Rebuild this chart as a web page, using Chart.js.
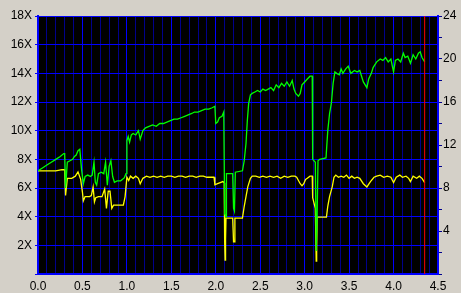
<!DOCTYPE html>
<html>
<head>
<meta charset="utf-8">
<script src="https://cdn.jsdelivr.net/npm/chart.js@4/dist/chart.umd.min.js"></script>
<style>
  body { margin: 0; background: #d4d0c8; }
  canvas { display: block; }
</style>
</head>
<body>
<canvas id="Chart" width="461" height="293"></canvas>
<script>
// transfer speed (X), read on the left axis
const speedData = [
    [0.00, 7.2], [0.05, 7.4], [0.10, 7.6], [0.15, 7.8], [0.20, 8.0], [0.25, 8.2], [0.29, 8.4], [0.30, 8.4],
    [0.31, 6.0], [0.33, 7.8], [0.36, 7.9], [0.39, 8.0], [0.41, 8.2], [0.43, 8.3], [0.45, 8.6], [0.47, 8.7],
    [0.49, 7.3], [0.51, 6.3], [0.53, 6.8], [0.56, 6.9], [0.59, 6.8], [0.61, 6.9], [0.63, 7.8], [0.645, 6.4],
    [0.66, 6.2], [0.68, 7.0], [0.71, 7.1], [0.74, 7.0], [0.76, 7.8], [0.78, 6.2], [0.80, 7.5], [0.82, 7.9],
    [0.84, 6.8], [0.86, 6.4], [0.89, 6.5], [0.93, 6.5], [0.97, 6.7], [0.99, 7.0], [1.00, 9.3], [1.015, 9.6],
    [1.03, 9.2], [1.05, 9.7], [1.07, 9.8], [1.10, 9.7], [1.13, 10.0], [1.15, 9.4], [1.18, 10.0], [1.21, 10.2],
    [1.25, 10.3], [1.29, 10.4], [1.33, 10.3], [1.37, 10.5], [1.41, 10.5], [1.45, 10.6], [1.49, 10.7], [1.53, 10.8],
    [1.57, 10.8], [1.61, 10.9], [1.65, 11.0], [1.69, 11.1], [1.73, 11.2], [1.76, 11.3], [1.80, 11.3], [1.84, 11.4],
    [1.88, 11.5], [1.92, 11.5], [1.96, 11.6], [1.99, 11.7], [2.00, 10.5], [2.02, 10.6], [2.04, 10.9], [2.07, 11.0],
    [2.09, 11.3], [2.10, 4.2], [2.115, 4.0], [2.12, 7.0], [2.19, 7.0], [2.20, 4.6], [2.21, 4.4], [2.22, 7.1],
    [2.30, 7.2], [2.32, 7.9], [2.34, 9.1], [2.355, 10.7], [2.37, 11.9], [2.39, 12.5], [2.41, 12.6], [2.44, 12.7],
    [2.47, 12.8], [2.50, 12.7], [2.53, 12.9], [2.56, 12.8], [2.59, 12.9], [2.62, 13.0], [2.65, 12.8], [2.68, 13.2],
    [2.71, 13.0], [2.74, 13.3], [2.77, 13.1], [2.80, 13.4], [2.83, 13.1], [2.86, 13.5], [2.88, 12.9], [2.90, 12.6],
    [2.93, 12.4], [2.95, 12.6], [2.97, 13.2], [3.00, 13.4], [3.03, 13.6], [3.06, 13.8], [3.085, 13.8], [3.09, 8.0],
    [3.12, 7.8], [3.13, 1.6], [3.14, 4.0], [3.15, 7.9], [3.17, 8.0], [3.24, 8.1], [3.26, 10.0], [3.28, 11.2],
    [3.30, 11.9], [3.32, 13.3], [3.34, 14.1], [3.36, 14.0], [3.39, 13.9], [3.41, 14.3], [3.43, 14.0], [3.46, 14.3],
    [3.49, 14.5], [3.52, 14.0], [3.56, 14.2], [3.59, 14.1], [3.62, 14.2], [3.64, 13.8], [3.66, 13.4], [3.70, 13.0],
    [3.72, 13.6], [3.75, 14.0], [3.77, 14.4], [3.81, 14.8], [3.85, 15.0], [3.88, 14.9], [3.91, 15.1], [3.94, 14.8],
    [3.97, 15.0], [4.00, 14.1], [4.02, 14.9], [4.05, 15.0], [4.08, 14.8], [4.11, 15.4], [4.13, 15.1], [4.16, 15.2],
    [4.19, 14.7], [4.22, 15.3], [4.25, 15.0], [4.28, 15.4], [4.30, 15.5], [4.32, 15.1], [4.35, 14.8]
]
// second curve, read on the right axis
const rightData = [
    [0.00, 9.6], [0.10, 9.6], [0.20, 9.6], [0.27, 9.7], [0.30, 9.7], [0.31, 7.3], [0.33, 8.9], [0.38, 8.9],
    [0.42, 9.1], [0.45, 9.5], [0.48, 8.8], [0.50, 7.6], [0.51, 6.8], [0.53, 7.2], [0.58, 7.2], [0.60, 7.3],
    [0.62, 8.1], [0.635, 6.7], [0.65, 7.1], [0.68, 7.2], [0.72, 7.2], [0.75, 7.9], [0.77, 6.1], [0.79, 7.7],
    [0.81, 7.7], [0.83, 6.1], [0.85, 6.4], [0.90, 6.4], [0.96, 6.4], [0.98, 7.2], [1.00, 9.0], [1.02, 8.7],
    [1.04, 9.1], [1.07, 8.9], [1.10, 9.1], [1.13, 8.9], [1.15, 8.4], [1.18, 8.9], [1.22, 9.1], [1.26, 9.0],
    [1.30, 9.1], [1.34, 9.0], [1.38, 9.1], [1.42, 9.0], [1.46, 9.1], [1.50, 9.1], [1.54, 9.0], [1.58, 9.1],
    [1.62, 9.1], [1.66, 9.0], [1.70, 9.1], [1.74, 9.1], [1.78, 9.0], [1.82, 9.1], [1.86, 9.1], [1.90, 9.0],
    [1.94, 9.0], [1.98, 9.0], [1.99, 8.3], [2.02, 8.4], [2.05, 8.5], [2.08, 8.6], [2.095, 8.5], [2.10, 3.0],
    [2.105, 1.3], [2.11, 3.2], [2.115, 5.2], [2.15, 5.2], [2.19, 5.2], [2.20, 3.0], [2.21, 3.0], [2.215, 5.2],
    [2.25, 5.2], [2.30, 5.2], [2.32, 6.3], [2.34, 7.2], [2.36, 8.1], [2.39, 8.9], [2.41, 9.1], [2.45, 9.1],
    [2.49, 9.0], [2.53, 9.1], [2.57, 9.0], [2.61, 9.1], [2.65, 9.0], [2.69, 9.1], [2.73, 8.9], [2.77, 9.1],
    [2.81, 9.0], [2.85, 9.1], [2.89, 9.1], [2.91, 9.0], [2.93, 8.7], [2.95, 8.4], [2.97, 8.2], [2.99, 8.4],
    [3.01, 8.8], [3.03, 8.9], [3.06, 9.1], [3.085, 9.1], [3.09, 7.1], [3.12, 6.1], [3.13, 1.2], [3.135, 2.4],
    [3.14, 5.3], [3.17, 5.3], [3.245, 5.3], [3.26, 6.3], [3.28, 7.2], [3.31, 8.1], [3.33, 9.0], [3.35, 9.2],
    [3.38, 9.0], [3.41, 9.1], [3.44, 9.0], [3.47, 9.2], [3.50, 8.9], [3.53, 9.1], [3.56, 8.9], [3.59, 9.0],
    [3.62, 8.9], [3.66, 8.4], [3.70, 8.1], [3.74, 8.6], [3.78, 9.0], [3.81, 9.1], [3.85, 9.2], [3.89, 9.0],
    [3.93, 9.1], [3.97, 9.0], [4.00, 8.5], [4.03, 9.0], [4.07, 9.2], [4.10, 9.0], [4.14, 9.1], [4.17, 8.9],
    [4.19, 8.6], [4.22, 9.1], [4.26, 8.9], [4.29, 9.1], [4.32, 8.9], [4.35, 8.5]
]
const markerX = 4.35
const xRange = [0, 4.5]
const leftRange = [0, 18]
const rightRange = [0, 24]

const BLUE = '#0000ff'
const NAVY = '#00008c'
const font = { family: 'Liberation Sans', size: 12 }

const toPoints = arr => arr.map(p => ({ x: p[0], y: p[1] }))

const bgPlugin = {
    id: 'bg',
    beforeDraw(chart) {
        const c = chart.ctx, a = chart.chartArea
        c.save()
        c.fillStyle = '#d4d0c8'
        c.fillRect(0, 0, chart.width, chart.height)
        c.fillStyle = '#000000'
        c.fillRect(a.left, a.top, a.right - a.left, a.bottom - a.top)
        c.restore()
    }
}

const ctx = document.getElementById('Chart').getContext('2d')
const myChart = new Chart(ctx, {
    type: 'line',
    data: {
        datasets: [{
            data: [{ x: markerX, y: leftRange[0] }, { x: markerX, y: leftRange[1] }],
            yAxisID: 'y',
            borderColor: '#ff0000',
            borderWidth: 1
        }, {
            data: toPoints(speedData),
            yAxisID: 'y',
            borderColor: '#00ff00',
            borderWidth: 1.3
        }, {
            data: toPoints(rightData),
            yAxisID: 'y1',
            borderColor: '#ffff00',
            borderWidth: 1.3
        }]
    },
    options: {
        responsive: false,
        animation: false,
        layout: { padding: { top: 16 } },
        elements: { point: { radius: 0 }, line: { tension: 0 } },
        plugins: { legend: { display: false }, tooltip: { enabled: false } },
        scales: {
            x: {
                type: 'linear',
                min: xRange[0],
                max: xRange[1],
                afterFit: s => { s.height = 19 },
                ticks: {
                    stepSize: 0.1,
                    autoSkip: false,
                    maxRotation: 0,
                    padding: 5,
                    color: '#000000',
                    font: font,
                    callback: v => Math.round(v * 10) % 5 === 0 ? v.toFixed(1) : ''
                },
                grid: {
                    drawTicks: false,
                    color: c => Math.round(c.tick.value * 10) % 5 === 0 ? BLUE : NAVY
                },
                border: { color: BLUE, width: 2 }
            },
            y: {
                min: leftRange[0],
                max: leftRange[1],
                afterFit: s => { s.width = 38 },
                ticks: {
                    stepSize: 1,
                    padding: 3,
                    color: '#000000',
                    font: font,
                    callback: v => (v > 0 && v % 2 === 0) ? v + 'X' : ''
                },
                grid: {
                    tickLength: 3,
                    color: c => Math.round(c.tick.value) % 2 === 0 ? BLUE : NAVY,
                    tickColor: c => Math.round(c.tick.value) % 2 === 0 ? BLUE : '#000000'
                },
                border: { color: BLUE, width: 2 }
            },
            y1: {
                position: 'right',
                min: rightRange[0],
                max: rightRange[1],
                afterFit: s => { s.width = 23 },
                ticks: {
                    stepSize: 2,
                    padding: 1,
                    color: '#000000',
                    font: font,
                    callback: v => (v > 0 && v % 4 === 0) ? v : ''
                },
                grid: {
                    drawOnChartArea: false,
                    tickLength: 4,
                    tickColor: NAVY
                },
                border: { color: BLUE, width: 2 }
            }
        }
    },
    plugins: [bgPlugin]
})
</script>
</body>
</html>
